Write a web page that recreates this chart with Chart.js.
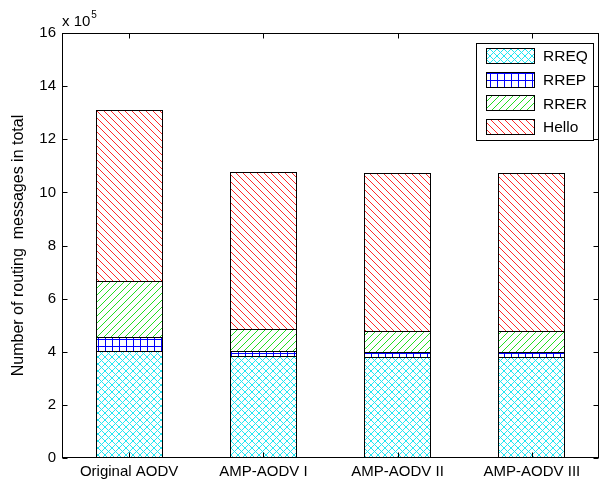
<!DOCTYPE html>
<html><head><meta charset="utf-8">
<script src="https://cdn.jsdelivr.net/npm/chart.js@4.4.0/dist/chart.umd.min.js"></script>
<style>html,body{margin:0;padding:0;background:#fff}#w{width:608px;height:486px;position:relative}</style>
</head><body><div id="w"><canvas id="c" width="608" height="486"></canvas></div>
<script>
// ---- data ----
const categories = ['Original AODV', 'AMP-AODV I', 'AMP-AODV II', 'AMP-AODV III'];
const seriesNames = ['RREQ', 'RREP', 'RRER', 'Hello'];
const rreq  = [4.04, 3.85, 3.82, 3.82];
const rrep  = [0.53, 0.19, 0.18, 0.18];
const rrer  = [2.09, 0.80, 0.78, 0.78];
const hello = [6.44, 5.94, 5.96, 5.96];
const yTicks = [0, 2, 4, 6, 8, 10, 12, 14, 16];
const yTitle = 'Number of routing  messages in total';
const exponentBase = 'x 10';
const exponentPow = '5';

// ---- patterns ----
function makePattern(kind) {
  const s = 7;
  const c = document.createElement('canvas');
  c.width = s; c.height = s;
  const g = c.getContext('2d');
  g.fillStyle = '#fff'; g.fillRect(0, 0, s, s);
  g.lineWidth = 1;
  const diag = (dir) => {
    for (const o of [-s, 0, s]) {
      g.beginPath();
      if (dir > 0) { g.moveTo(o - 1, s + 1); g.lineTo(o + s + 1, -1); }
      else { g.moveTo(o - 1, -1); g.lineTo(o + s + 1, s + 1); }
      g.stroke();
    }
  };
  if (kind === 'cross') { g.strokeStyle = '#22e6f2'; diag(1); diag(-1); }
  else if (kind === 'grid') {
    g.strokeStyle = '#0000ff';
    g.beginPath(); g.moveTo(0.5, 0); g.lineTo(0.5, s); g.stroke();
    g.beginPath(); g.moveTo(0, 3.5); g.lineTo(s, 3.5); g.stroke();
  }
  else if (kind === 'fwd') { g.strokeStyle = '#22dd22'; diag(1); }
  else if (kind === 'back') { g.strokeStyle = '#ff2a2a'; diag(-1); }
  return g.createPattern(c, 'repeat');
}
const fills = [makePattern('cross'), makePattern('grid'), makePattern('fwd'), makePattern('back')];
const values = [rreq, rrep, rrer, hello];

const datasets = seriesNames.map((n, i) => ({
  label: n,
  data: values[i],
  backgroundColor: fills[i],
  borderColor: '#000',
  borderWidth: 1,
  borderSkipped: 'bottom',
  barPercentage: 0.5,
  categoryPercentage: 1.0
}));

const FONT = '"Liberation Sans", Arial, sans-serif';

// snap bar geometry (computed by the scales) to whole pixels for crisp edges
const snapPlugin = {
  id: 'snapBars',
  beforeDatasetsDraw(chart) {
    chart.data.datasets.forEach((ds, i) => {
      const meta = chart.getDatasetMeta(i);
      meta.data.forEach(el => {
        const w = Math.round(el.width);
        const left = Math.round(el.x - el.width / 2);
        el.width = w;
        el.x = left + w / 2;
        el.y = Math.round(el.y);
        el.base = Math.round(el.base);
      });
    });
  }
};

const framePlugin = {
  id: 'matlabFrame',
  afterDatasetsDraw(chart) {
    const { ctx, chartArea: a, scales } = chart;
    ctx.save();
    ctx.strokeStyle = '#000';
    ctx.lineWidth = 1;
    const L = Math.round(a.left) + 0.5, R = Math.round(a.right) - 0.5;
    const T = Math.round(a.top) + 0.5, B = Math.round(a.bottom) - 0.5;
    ctx.strokeRect(L, T, R - L, B - T);
    const tl = 5;
    ctx.beginPath();
    yTicks.forEach(v => {
      const y = Math.round(scales.y.getPixelForValue(v)) + 0.5;
      ctx.moveTo(L, y); ctx.lineTo(L + tl, y);
      ctx.moveTo(R, y); ctx.lineTo(R - tl, y);
    });
    categories.forEach((c, i) => {
      const x = Math.round(scales.x.getPixelForValue(i)) + 0.5;
      ctx.moveTo(x, B); ctx.lineTo(x, B - tl);
      ctx.moveTo(x, T); ctx.lineTo(x, T + tl);
    });
    ctx.stroke();
    // exponent label
    ctx.fillStyle = '#000';
    ctx.textBaseline = 'alphabetic';
    ctx.textAlign = 'left';
    ctx.font = '15px ' + FONT;
    ctx.fillText(exponentBase, a.left, a.top - 7);
    const w = ctx.measureText(exponentBase).width;
    ctx.font = '10px ' + FONT;
    ctx.fillText(exponentPow, a.left + w + 1, a.top - 15);
    // legend
    const lx = 476.5, ly = 43.5, lw = 117, lh = 97;
    ctx.fillStyle = '#fff';
    ctx.fillRect(lx, ly, lw, lh);
    ctx.strokeRect(lx, ly, lw, lh);
    chart.data.datasets.forEach((ds, i) => {
      const cy = 56 + i * 23.7;
      const sx = 486, sy = Math.round(cy - 8), sw = 49, sh = 16;
      ctx.fillStyle = ds.backgroundColor;
      ctx.fillRect(sx, sy, sw, sh);
      ctx.strokeStyle = '#000';
      ctx.strokeRect(sx + 0.5, sy + 0.5, sw - 1, sh - 1);
      ctx.fillStyle = '#000';
      ctx.font = '15.5px ' + FONT;
      ctx.textBaseline = 'middle';
      ctx.fillText(ds.label, 543, cy + 1);
    });
    ctx.restore();
  }
};

new Chart(document.getElementById('c'), {
  type: 'bar',
  data: { labels: categories, datasets },
  plugins: [snapPlugin, framePlugin],
  options: {
    responsive: false,
    animation: false,
    events: [],
    layout: { padding: { top: 33, right: 9, left: 0, bottom: 0 } },
    plugins: { legend: { display: false }, tooltip: { enabled: false } },
    scales: {
      x: {
        stacked: true,
        grid: { display: false, drawTicks: false },
        border: { display: false },
        ticks: { color: '#000', font: { family: FONT, size: 15 }, padding: 5, maxRotation: 0, autoSkip: false },
        afterFit(s) { s.height = 28; }
      },
      y: {
        stacked: true,
        min: 0, max: 16,
        afterBuildTicks(s) { s.ticks = yTicks.map(v => ({ value: v })); },
        grid: { display: false, drawTicks: false },
        border: { display: false },
        ticks: { color: '#000', font: { family: FONT, size: 15 }, padding: 6 },
        title: { display: true, text: yTitle, color: '#000', font: { family: FONT, size: 16 }, padding: { top: 9, bottom: 0 } },
        afterFit(s) { s.width = 62; }
      }
    }
  }
});
</script>
</body></html>
